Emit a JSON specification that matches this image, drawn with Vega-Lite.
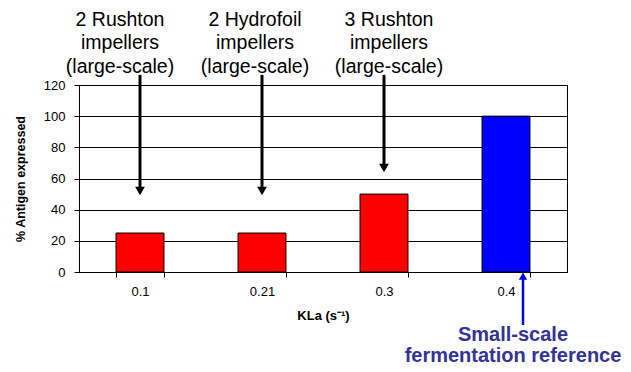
{
  "$schema": "https://vega.github.io/schema/vega-lite/v6.json",
  "width": 488,
  "height": 187,
  "autosize": {"type": "none"},
  "padding": {"left": 79, "top": 85, "right": 64, "bottom": 100},
  "background": "white",
  "config": {
    "font": "Liberation Sans",
    "view": {"stroke": "black", "strokeWidth": 1},
    "axis": {
      "labelFont": "Liberation Sans",
      "titleFont": "Liberation Sans",
      "labelColor": "black",
      "titleColor": "black",
      "domainColor": "black",
      "tickColor": "black",
      "gridColor": "black",
      "gridOpacity": 1
    },
    "axisY": {
      "grid": true,
      "tickSize": 5,
      "labelPadding": 9,
      "labelFontSize": 13,
      "titleFontSize": 12.5,
      "titleFontWeight": "bold",
      "titlePadding": 16
    }
  },
  "datasets": {
    "bars": [
      {"KLa": "0.1", "pct": 25, "setup": "large"},
      {"KLa": "0.21", "pct": 25, "setup": "large"},
      {"KLa": "0.3", "pct": 50, "setup": "large"},
      {"KLa": "0.4", "pct": 100, "setup": "small"}
    ],
    "arrows": [
      {"KLa": "0.1", "top": 126.5, "end": 54, "head": 52},
      {"KLa": "0.21", "top": 126.5, "end": 54, "head": 52},
      {"KLa": "0.3", "top": 126.5, "end": 69, "head": 66.7}
    ],
    "ref": [
      {"KLa": "0.4", "bottom": -34, "end": -4, "head": -2.6, "note": "Small-scale\nfermentation reference"}
    ]
  },
  "encoding": {
    "x": {
      "field": "KLa",
      "type": "nominal",
      "scale": {"type": "band", "domain": ["0.1", "0.21", "0.3", "0.4"], "paddingInner": 0.607, "paddingOuter": 0.3035},
      "axis": {
        "title": "KLa (s⁻¹)",
        "labelAngle": 0,
        "tickBand": "extent",
        "tickSize": 5,
        "labelPadding": 8,
        "labelFontSize": 13,
        "titleFontSize": 13,
        "titleFontWeight": "bold",
        "titlePadding": 11,
        "grid": false
      }
    }
  },
  "layer": [
    {
      "data": {"name": "bars"},
      "mark": {"type": "bar", "stroke": "black", "strokeWidth": 1},
      "encoding": {
        "y": {
          "field": "pct",
          "type": "quantitative",
          "title": "% Antigen expressed",
          "scale": {"domain": [0, 120], "nice": false},
          "axis": {"values": [0, 20, 40, 60, 80, 100, 120]}
        },
        "color": {
          "field": "setup",
          "type": "nominal",
          "scale": {"domain": ["large", "small"], "range": ["#FF0000", "#0000FF"]},
          "legend": null
        }
      }
    },
    {
      "data": {"name": "arrows"},
      "mark": {"type": "rule", "color": "black", "strokeWidth": 3},
      "encoding": {
        "y": {"field": "top", "type": "quantitative", "title": "% Antigen expressed", "scale": {"domain": [0, 120], "nice": false}, "axis": {"values": [0, 20, 40, 60, 80, 100, 120]}},
        "y2": {"field": "end"}
      }
    },
    {
      "data": {"name": "arrows"},
      "mark": {"type": "point", "shape": "triangle-down", "filled": true, "color": "black", "opacity": 1, "size": 95},
      "encoding": {
        "y": {"field": "head", "type": "quantitative", "title": "% Antigen expressed", "scale": {"domain": [0, 120], "nice": false}, "axis": {"values": [0, 20, 40, 60, 80, 100, 120]}}
      }
    },
    {
      "data": {"values": [{"KLa": "0.1", "pos": 167.5, "note": "2 Rushton\nimpellers\n(large-scale)"}]},
      "mark": {"type": "text", "font": "Liberation Sans", "fontSize": 19.5, "lineHeight": 23.5, "lineBreak": "\n", "baseline": "top", "align": "center", "color": "black", "dx": -20},
      "encoding": {
        "y": {"field": "pos", "type": "quantitative", "title": "% Antigen expressed", "scale": {"domain": [0, 120], "nice": false}, "axis": {"values": [0, 20, 40, 60, 80, 100, 120]}},
        "text": {"field": "note"}
      }
    },
    {
      "data": {"values": [{"KLa": "0.21", "pos": 167.5, "note": "2 Hydrofoil\nimpellers\n(large-scale)"}]},
      "mark": {"type": "text", "font": "Liberation Sans", "fontSize": 19.5, "lineHeight": 23.5, "lineBreak": "\n", "baseline": "top", "align": "center", "color": "black", "dx": -7},
      "encoding": {
        "y": {"field": "pos", "type": "quantitative", "title": "% Antigen expressed", "scale": {"domain": [0, 120], "nice": false}, "axis": {"values": [0, 20, 40, 60, 80, 100, 120]}},
        "text": {"field": "note"}
      }
    },
    {
      "data": {"values": [{"KLa": "0.3", "pos": 167.5, "note": "3 Rushton\nimpellers\n(large-scale)"}]},
      "mark": {"type": "text", "font": "Liberation Sans", "fontSize": 19.5, "lineHeight": 23.5, "lineBreak": "\n", "baseline": "top", "align": "center", "color": "black", "dx": 5},
      "encoding": {
        "y": {"field": "pos", "type": "quantitative", "title": "% Antigen expressed", "scale": {"domain": [0, 120], "nice": false}, "axis": {"values": [0, 20, 40, 60, 80, 100, 120]}},
        "text": {"field": "note"}
      }
    },
    {
      "data": {"name": "ref"},
      "mark": {"type": "rule", "color": "#0000FF", "strokeWidth": 2.5, "xOffset": 17},
      "encoding": {
        "y": {"field": "bottom", "type": "quantitative", "title": "% Antigen expressed", "scale": {"domain": [0, 120], "nice": false}, "axis": {"values": [0, 20, 40, 60, 80, 100, 120]}},
        "y2": {"field": "end"}
      }
    },
    {
      "data": {"name": "ref"},
      "mark": {"type": "point", "shape": "triangle-up", "filled": true, "color": "#0000FF", "opacity": 1, "size": 70, "xOffset": 17},
      "encoding": {
        "y": {"field": "head", "type": "quantitative", "title": "% Antigen expressed", "scale": {"domain": [0, 120], "nice": false}, "axis": {"values": [0, 20, 40, 60, 80, 100, 120]}}
      }
    },
    {
      "data": {"name": "ref"},
      "mark": {"type": "text", "font": "Liberation Sans", "fontWeight": "bold", "fontSize": 20, "lineHeight": 21, "lineBreak": "\n", "baseline": "top", "align": "center", "color": "#333399", "dx": 7},
      "encoding": {
        "y": {"field": "bottom", "type": "quantitative", "title": "% Antigen expressed", "scale": {"domain": [0, 120], "nice": false}, "axis": {"values": [0, 20, 40, 60, 80, 100, 120]}},
        "text": {"field": "note"}
      }
    }
  ]
}
